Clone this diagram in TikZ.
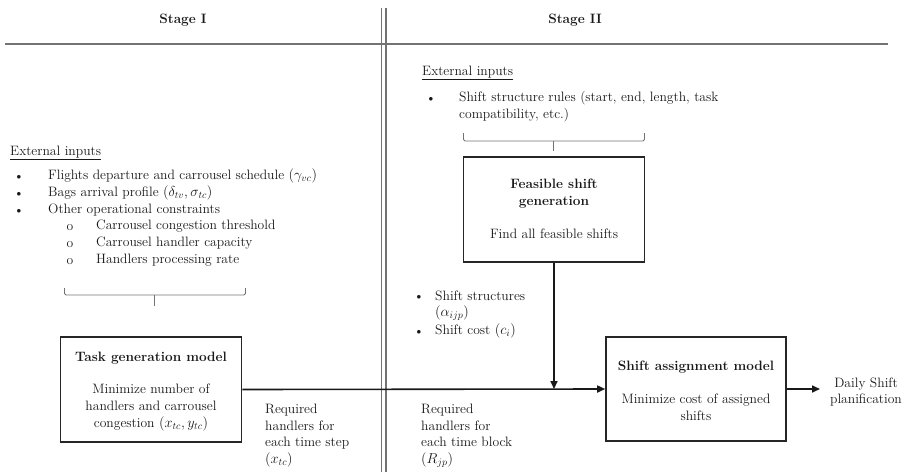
\documentclass[tikz,border=0pt]{standalone}
\usetikzlibrary{arrows.meta}
\begin{document}
\begin{tikzpicture}[x=1pt,y=-1pt,
  txt/.style={font=\fontsize{13.6}{16.6}\selectfont, inner sep=0pt, text=black!90},
  ttl/.style={font=\fontsize{13.6}{16.6}\selectfont\bfseries, inner sep=0pt, text=black!90},
  dot/.style={font=\fontsize{9}{9}\selectfont, inner sep=0pt, text=black!90},
  box/.style={draw=black!85, line width=1.6pt, inner sep=0pt},
  rule/.style={draw=black!55, line width=1.1pt},
  brace/.style={draw=black!55, line width=0.9pt, rounded corners=1.5pt},
  conn/.style={draw=black!90, line width=1.6pt},
  arr/.style={conn, -{Triangle[length=8pt,width=7pt]}}]
\useasboundingbox (0,0) rectangle (906,472);
% header
\node[ttl] (s1) at (183,20) {Stage I};
\node[ttl] (s2) at (575,20) {Stage II};
\coordinate (hl) at (5,44); \coordinate (hr) at (888,44);
\draw[rule] (hl) -- (hr);
\coordinate (v1t) at (381.5,8); \coordinate (v1b) at (381.5,472);
\coordinate (v2t) at (386,8); \coordinate (v2b) at (386,472);
\draw[rule] (v1t) -- (v1b);
\draw[rule] (v2t) -- (v2b);
% Stage I external inputs
\node[txt, anchor=west] (e1) at (10,153) {\underline{External inputs}};
\node[dot] (b1) at (19,177) {$\bullet$};
\node[txt, anchor=west] (l1) at (48,176) {Flights departure and carrousel schedule $(\gamma_{vc})$};
\node[dot] (b2) at (19,194) {$\bullet$};
\node[txt, anchor=west] (l2) at (48,193) {Bags arrival profile $(\delta_{tv},\sigma_{tc})$};
\node[dot] (b3) at (19,211) {$\bullet$};
\node[txt, anchor=west] (l3) at (48,210) {Other operational constraints};
\node[txt] (c1) at (70,228) {o};
\node[txt, anchor=west] (m1) at (96,226) {Carrousel congestion threshold};
\node[txt] (c2) at (70,245) {o};
\node[txt, anchor=west] (m2) at (96,243) {Carrousel handler capacity};
\node[txt] (c3) at (70,262) {o};
\node[txt, anchor=west] (m3) at (96,260) {Handlers processing rate};
% brace 1
\coordinate (ba1) at (64.5,288); \coordinate (bb1) at (245.5,288);
\coordinate (bm1) at (154.5,295); \coordinate (bt1) at (154.5,306);
\draw[brace] (ba1) -- (64.5,295) -- (245.5,295) -- (bb1);
\draw[brace] (bm1) -- (bt1);
% task box
\node[box, minimum width=181pt, minimum height=105pt] (task) at (151,389.5) {};
\node[ttl] (taskt) at (151,358) {Task generation model};
\node[txt, align=center] (taskb) at (151,407.5) {Minimize number of\\handlers and carrousel\\congestion $(x_{tc},y_{tc})$};
\node[txt, anchor=north west, align=left] (req1) at (265,404) {Required\\handlers for\\each time step\\$(x_{tc})$};
% Stage II external inputs
\node[txt, anchor=west] (e2) at (422,73) {\underline{External inputs}};
\node[dot] (b4) at (431,99) {$\bullet$};
\node[txt, anchor=west] (l4) at (459,98) {Shift structure rules (start, end, length, task};
\node[txt, anchor=west] (l5) at (459,115) {compatibility, etc.)};
% brace 2
\coordinate (ba2) at (463.5,133); \coordinate (bb2) at (644.5,133);
\coordinate (bm2) at (553.5,141); \coordinate (bt2) at (553.5,151);
\draw[brace] (ba2) -- (463.5,141) -- (644.5,141) -- (bb2);
\draw[brace] (bm2) -- (bt2);
% feasible box
\node[box, minimum width=181pt, minimum height=105pt] (feas) at (554,209.5) {};
\node[ttl, align=center] (feast) at (554,193.5) {Feasible shift\\generation};
\node[txt] (feasb) at (554,234) {Find all feasible shifts};
\node[dot] (b5) at (419,297) {$\bullet$};
\node[txt, anchor=west] (l6) at (435,296) {Shift structures};
\node[txt, anchor=west] (l7) at (435,313) {$(\alpha_{ijp})$};
\node[dot] (b6) at (419,332) {$\bullet$};
\node[txt, anchor=west] (l8) at (435,331) {Shift cost $(c_i)$};
\node[txt, anchor=north west, align=left] (req2) at (421,404) {Required\\handlers for\\each time block\\$(R_{jp})$};
% shift assignment box
\node[box, minimum width=180pt, minimum height=104pt] (shift) at (696,389) {};
\node[ttl] (shiftt) at (696,367) {Shift assignment model};
\node[txt, align=center] (shiftb) at (696,407) {Minimize cost of assigned\\shifts};
\node[txt, align=center] (daily) at (866,392) {Daily Shift\\planification};
% connectors
\coordinate (join) at (554,389);
\coordinate (dend) at (820,389);
\draw[arr] (task.east) -- (shift.west);
\draw[arr] (feas.south) -- (join);
\draw[arr] (shift.east) -- (dend);
\end{tikzpicture}
\end{document}
